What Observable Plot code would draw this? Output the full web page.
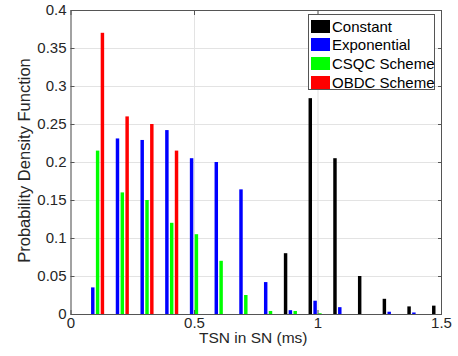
<!DOCTYPE html>
<html>
<head>
<meta charset="utf-8">
<script src="https://cdn.jsdelivr.net/npm/d3@7"></script>
<script src="https://cdn.jsdelivr.net/npm/@observablehq/plot@0.6"></script>
<style>
  body { margin: 0; background: #fff; font-family: "Liberation Sans", Arial, sans-serif; }
  #wrap { position: relative; width: 458px; height: 356px; }
  #legend { position: absolute; left: 308px; top: 14px; width: 127px; height: 76px; box-sizing: border-box;
            border: 1px solid #555; background: #fff; font-size: 15px; color: #000; padding-top: 2px;
            white-space: nowrap; overflow: visible; }
  .row { display: flex; align-items: center; height: 18.6px; white-space: nowrap; }
  .sw { flex: none; width: 19px; height: 13px; margin-left: 2px; margin-right: 2px; }
</style>
</head>
<body>
<div id="wrap"></div>
<script>
const groups = [0.1, 0.2, 0.3, 0.4, 0.5, 0.6, 0.7, 0.8, 0.9, 1.0, 1.1, 1.2, 1.3, 1.4, 1.5];
const seriesNames = ["Constant", "Exponential", "CSQC Scheme", "OBDC Scheme"];
const constantVals    = [0, 0, 0, 0, 0, 0, 0, 0, 0.08, 0.284, 0.205, 0.05, 0.02, 0.01, 0.011];
const exponentialVals = [0.035, 0.231, 0.229, 0.242, 0.205, 0.2, 0.164, 0.042, 0.005, 0.0175, 0.009, 0, 0.003, 0.002, 0];
const csqcVals        = [0.215, 0.16, 0.15, 0.12, 0.105, 0.07, 0.025, 0.004, 0.004, 0.001, 0, 0, 0, 0, 0];
const obdcVals        = [0.37, 0.26, 0.25, 0.215, 0, 0, 0, 0, 0, 0, 0, 0, 0, 0, 0];
const seriesColors = ["#000000", "#0000ff", "#00ff00", "#ff0000"];
const xTicks = [0, 0.5, 1, 1.5];
const yTicks = [0, 0.05, 0.1, 0.15, 0.2, 0.25, 0.3, 0.35, 0.4];
const xLabel = "TSN in SN (ms)";
const yLabel = "Probability Density Function";

const allVals = [constantVals, exponentialVals, csqcVals, obdcVals];
const step = 0.0195, half = 0.007;
const rows = [];
allVals.forEach((vals, si) => {
  vals.forEach((v, gi) => {
    if (v > 0) rows.push({series: seriesNames[si], si, x: groups[gi], value: v});
  });
});

const axisColor = "#555";
const plot = Plot.plot({
  width: 458,
  height: 356,
  marginLeft: 70.5,
  marginRight: 17,
  marginTop: 10,
  marginBottom: 42,
  style: {fontFamily: "'Liberation Sans', Arial, sans-serif", fontSize: "15px", color: "#262626", background: "#fff"},
  x: {domain: [0, 1.5]},
  y: {domain: [0, 0.4]},
  color: {domain: seriesNames, range: seriesColors},
  marks: [
    Plot.gridY(yTicks, {stroke: "#e3e3e3", strokeOpacity: 1}),
    Plot.gridX(xTicks, {stroke: "#e3e3e3", strokeOpacity: 1}),
    Plot.rectY(rows, {
      x1: d => d.x + (d.si - 1.5) * step - half,
      x2: d => d.x + (d.si - 1.5) * step + half,
      y1: 0, y2: "value", fill: "series"
    }),
    Plot.axisY({anchor: "left", ticks: yTicks, tickSize: -4, tickPadding: 8.5, stroke: axisColor,
      tickFormat: d => String(d), label: null, fontSize: 15}),
    Plot.axisY({anchor: "right", ticks: yTicks, tickSize: -4, tickFormat: () => "", stroke: axisColor, label: null}),
    Plot.axisX({anchor: "bottom", ticks: xTicks, tickSize: -4, tickPadding: 7, stroke: axisColor,
      tickFormat: d => String(d), label: null, fontSize: 15}),
    Plot.axisX({anchor: "top", ticks: xTicks, tickSize: -4, tickFormat: () => "", stroke: axisColor, label: null}),
    Plot.frame({stroke: axisColor}),
    Plot.text([xLabel], {frameAnchor: "bottom", textAnchor: "middle", lineAnchor: "middle", dx: -3, dy: 24, fontSize: 15.5, fill: "#262626"}),
    Plot.text([yLabel], {frameAnchor: "left", textAnchor: "middle", lineAnchor: "middle", dx: -46, dy: -2, rotate: -90, fontSize: 16.5, fill: "#262626"})
  ]
});
const wrap = document.getElementById("wrap");
wrap.appendChild(plot);

const legend = document.createElement("div");
legend.id = "legend";
seriesNames.forEach((name, i) => {
  const row = document.createElement("div");
  row.className = "row";
  const sw = document.createElement("span");
  sw.className = "sw";
  sw.style.background = seriesColors[i];
  const label = document.createElement("span");
  label.textContent = name;
  row.appendChild(sw);
  row.appendChild(label);
  legend.appendChild(row);
});
wrap.appendChild(legend);
</script>
</body>
</html>
